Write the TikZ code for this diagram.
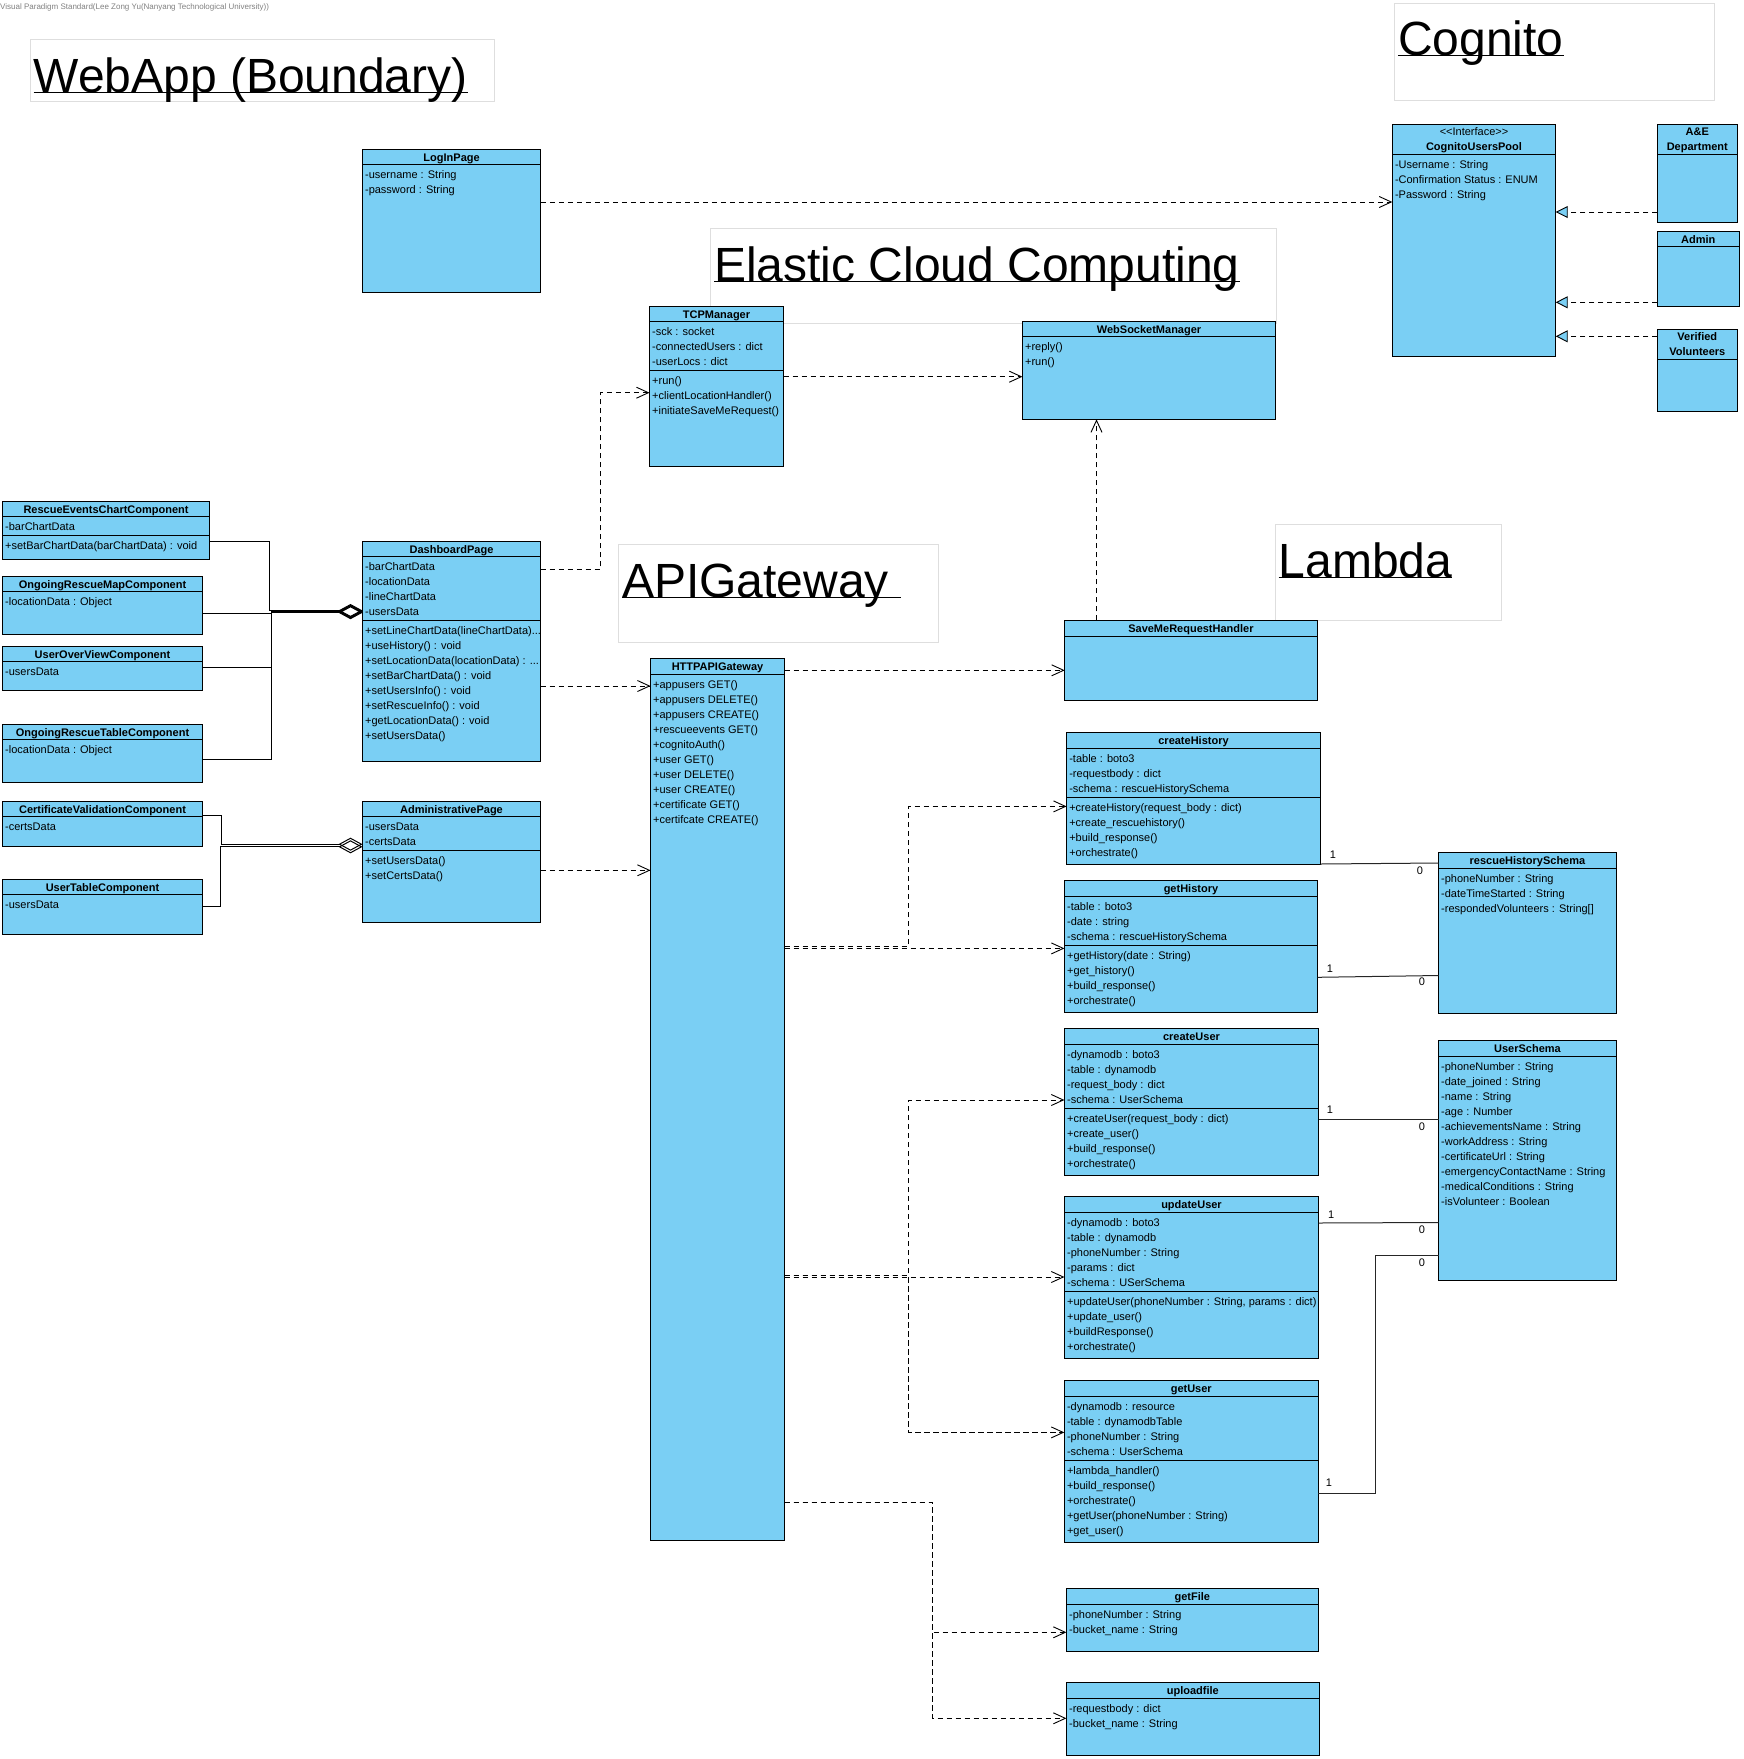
\documentclass[tikz,border=0pt]{standalone}
\usepackage{fontspec}
\setmainfont{Liberation Sans}
\usetikzlibrary{arrows.meta}
\definecolor{clsblue}{RGB}{122,207,244}
\definecolor{areagray}{RGB}{222,222,222}
\newcommand{\compline}[2]{\draw[line width=1] ([yshift=-#2pt]#1.north west) -- ([yshift=-#2pt]#1.north east);}
\newcommand{\members}[4]{\node[mem] (#1-#2) at ([shift={(2.5pt,-#3pt-6pt)}]#1.north west) {#4};}
\tikzset{
  cls/.style = {rectangle,draw=black,fill=clsblue,line width=1,anchor=north west,inner sep=0pt,outer sep=0pt},
  hdr/.style = {anchor=north,inner sep=0pt,font=\bfseries\fontsize{11}{15}\selectfont,text height=8pt,text depth=2.5pt},
  hdrtwo/.style = {anchor=north,inner sep=0pt,align=center,font=\bfseries\fontsize{11}{15}\selectfont},
  mem/.style = {anchor=north west,inner sep=0pt,align=left,font=\fontsize{11}{15}\selectfont},
  %
  area/.style = {rectangle,draw=areagray,line width=1,anchor=north west,inner sep=0pt},
  areatitle/.style = {anchor=base west,inner sep=0pt,font=\fontsize{48}{56}\selectfont},
  uline/.style = {line width=1.3},
  %
  dep/.style = {-{Straight Barb[length=12pt,width=11pt]},line width=0.9,dash pattern=on 5.5pt off 3.5pt},
  realize/.style = {-{Triangle[length=12pt,width=12pt,fill=clsblue]},line width=0.9,dash pattern=on 5.5pt off 3.5pt},
  agg/.style = {-{Diamond[open,length=24pt,width=13pt]},line width=1},
  assoc/.style = {line width=1,draw=black!85},
  mult/.style = {inner sep=0pt,font=\fontsize{11}{15}\selectfont},
}

\begin{document}
\begin{tikzpicture}[x=1pt,y=-1pt]
    \useasboundingbox (0,0) rectangle (1743,1759);
    \node[anchor=west,inner sep=0pt,font=\fontsize{8}{9}\selectfont,text=gray] (vp) at (0,7.3) {Visual Paradigm Standard(Lee Zong Yu(Nanyang Technological University))};

    % package titles
    \node[area,minimum width=464.2,minimum height=62] (webapparea) at (29.5,39.3) {};
    \node[areatitle] (webapptitle) at (33.5,92.3) {WebApp (Boundary)};
    \draw[uline] (webapptitle.base west) -- (webapptitle.base east);

    \node[area,minimum width=320,minimum height=97.3] (cognitoarea) at (1394.3,2.7) {};
    \node[areatitle] (cognitotitle) at (1398,55.7) {Cognito};
    \draw[uline] (cognitotitle.base west) -- (cognitotitle.base east);

    \node[area,minimum width=565.5,minimum height=95] (elasticarea) at (710.2,228.3) {};
    \node[areatitle] (elastictitle) at (714,281.3) {Elastic Cloud Computing};
    \draw[uline] (elastictitle.base west) -- (elastictitle.base east);

    \node[area,minimum width=320.4,minimum height=98] (apiarea) at (618,544.3) {};
    \node[areatitle] (apititle) at (621.8,597.3) {APIGateway};
    \draw[uline] (apititle.base west) -- ([xshift=12pt]apititle.base east);

    \node[area,minimum width=226.2,minimum height=95.4] (lambdaarea) at (1274.8,524.3) {};
    \node[areatitle] (lambdatitle) at (1278.6,577.3) {Lambda};
    \draw[uline] (lambdatitle.base west) -- (lambdatitle.base east);

    % web app
    \node[cls,minimum width=178.4,minimum height=143] (login) at (362.4,149.3) {};
    \node[hdr] (login-h) at ([yshift=-3.5pt]login.north) {LogInPage};
    \compline{login}{15}
    \members{login}{a}{15}{-username : String\\-password : String}

    \node[cls,minimum width=178,minimum height=219.7] (dash) at (362.5,541.3) {};
    \node[hdr] (dash-h) at ([yshift=-3.5pt]dash.north) {DashboardPage};
    \compline{dash}{15.4}
    \compline{dash}{79.4}
    \members{dash}{a}{15.4}{-barChartData\\-locationData\\-lineChartData\\-usersData}
    \members{dash}{o}{79.4}{+setLineChartData(lineChartData)...\\+useHistory() : void\\+setLocationData(locationData) : ...\\+setBarChartData() : void\\+setUsersInfo() : void\\+setRescueInfo() : void\\+getLocationData() : void\\+setUsersData()}

    \node[cls,minimum width=178,minimum height=121] (adminpage) at (362.5,801.3) {};
    \node[hdr] (adminpage-h) at ([yshift=-3.5pt]adminpage.north) {AdministrativePage};
    \compline{adminpage}{15.4}
    \compline{adminpage}{49.4}
    \members{adminpage}{a}{15.4}{-usersData\\-certsData}
    \members{adminpage}{o}{49.4}{+setUsersData()\\+setCertsData()}

    \node[cls,minimum width=207.1,minimum height=58] (rescuechart) at (2.5,501.3) {};
    \node[hdr] (rescuechart-h) at ([yshift=-3.5pt]rescuechart.north) {RescueEventsChartComponent};
    \compline{rescuechart}{15.4}
    \compline{rescuechart}{34}
    \members{rescuechart}{a}{15.4}{-barChartData}
    \members{rescuechart}{o}{34}{+setBarChartData(barChartData) : void}

    \node[cls,minimum width=200,minimum height=58] (rescuemap) at (2.5,576.3) {};
    \node[hdr] (rescuemap-h) at ([yshift=-3.5pt]rescuemap.north) {OngoingRescueMapComponent};
    \compline{rescuemap}{15.4}
    \members{rescuemap}{a}{15.4}{-locationData : Object}

    \node[cls,minimum width=200,minimum height=44] (overview) at (2.5,646.3) {};
    \node[hdr] (overview-h) at ([yshift=-3.5pt]overview.north) {UserOverViewComponent};
    \compline{overview}{15.4}
    \members{overview}{a}{15.4}{-usersData}

    \node[cls,minimum width=200,minimum height=58] (rescuetable) at (2.5,724.3) {};
    \node[hdr] (rescuetable-h) at ([yshift=-3.5pt]rescuetable.north) {OngoingRescueTableComponent};
    \compline{rescuetable}{15.4}
    \members{rescuetable}{a}{15.4}{-locationData : Object}

    \node[cls,minimum width=200,minimum height=45] (certcomp) at (2.5,801.3) {};
    \node[hdr] (certcomp-h) at ([yshift=-3.5pt]certcomp.north) {CertificateValidationComponent};
    \compline{certcomp}{15.4}
    \members{certcomp}{a}{15.4}{-certsData}

    \node[cls,minimum width=200,minimum height=54.7] (usertable) at (2.5,879.3) {};
    \node[hdr] (usertable-h) at ([yshift=-3.5pt]usertable.north) {UserTableComponent};
    \compline{usertable}{15.4}
    \members{usertable}{a}{15.4}{-usersData}

    % cognito
    \node[cls,minimum width=163.4,minimum height=231.7] (cognito) at (1392.3,124.3) {};
    \node[hdrtwo] (cognito-h) at ([yshift=-3.5pt]cognito.north) {{\mdseries <\kern0pt<Interface>\kern0pt>}\\CognitoUsersPool};
    \compline{cognito}{30}
    \members{cognito}{a}{30}{-Username : String\\-Confirmation Status : ENUM\\-Password : String}

    \node[cls,minimum width=80,minimum height=98] (ae) at (1657.3,124.3) {};
    \node[hdrtwo] (ae-h) at ([yshift=-3.5pt]ae.north) {A\&E\\Department};
    \compline{ae}{30}

    \node[cls,minimum width=82,minimum height=75] (admin) at (1657.3,231.7) {};
    \node[hdr] (admin-h) at ([yshift=-3.5pt]admin.north) {Admin};
    \compline{admin}{15}

    \node[cls,minimum width=80,minimum height=81.7] (volunteer) at (1657.3,329.3) {};
    \node[hdrtwo] (volunteer-h) at ([yshift=-3.5pt]volunteer.north) {Verified\\Volunteers};
    \compline{volunteer}{30}

    % elastic cloud computing
    \node[cls,minimum width=134,minimum height=159.6] (tcp) at (649.5,306.7) {};
    \node[hdr] (tcp-h) at ([yshift=-3.5pt]tcp.north) {TCPManager};
    \compline{tcp}{15}
    \compline{tcp}{64}
    \members{tcp}{a}{15}{-sck : socket\\-connectedUsers : dict\\-userLocs : dict}
    \members{tcp}{o}{64}{+run()\\+clientLocationHandler()\\+initiateSaveMeRequest()}

    \node[cls,minimum width=253.3,minimum height=97.6] (wsm) at (1022.4,321.7) {};
    \node[hdr] (wsm-h) at ([yshift=-3.5pt]wsm.north) {WebSocketManager};
    \compline{wsm}{15}
    \members{wsm}{o}{15}{+reply()\\+run()}

    % api gateway
    \node[cls,minimum width=134,minimum height=882] (gateway) at (650.5,658.3) {};
    \node[hdr] (gateway-h) at ([yshift=-3.5pt]gateway.north) {HTTPAPIGateway};
    \compline{gateway}{16}
    \members{gateway}{o}{16}{+appusers GET()\\+appusers DELETE()\\+appusers CREATE()\\+rescueevents GET()\\+cognitoAuth()\\+user GET()\\+user DELETE()\\+user CREATE()\\+certificate GET()\\+certifcate CREATE()}

    % lambda
    \node[cls,minimum width=252.5,minimum height=80] (saveme) at (1064.7,620.3) {};
    \node[hdr] (saveme-h) at ([yshift=-3.5pt]saveme.north) {SaveMeRequestHandler};
    \compline{saveme}{16}

    \node[cls,minimum width=253.8,minimum height=132] (createhist) at (1066.6,732.3) {};
    \node[hdr] (createhist-h) at ([yshift=-3.5pt]createhist.north) {createHistory};
    \compline{createhist}{16}
    \compline{createhist}{65}
    \members{createhist}{a}{16}{-table : boto3\\-requestbody : dict\\-schema : rescueHistorySchema}
    \members{createhist}{o}{65}{+createHistory(request\_body : dict)\\+create\_rescuehistory()\\+build\_response()\\+orchestrate()}

    \node[cls,minimum width=253.1,minimum height=132] (gethist) at (1064.4,880.3) {};
    \node[hdr] (gethist-h) at ([yshift=-3.5pt]gethist.north) {getHistory};
    \compline{gethist}{16.4}
    \compline{gethist}{65}
    \members{gethist}{a}{16.4}{-table : boto3\\-date : string\\-schema : rescueHistorySchema}
    \members{gethist}{o}{65}{+getHistory(date : String)\\+get\_history()\\+build\_response()\\+orchestrate()}

    \node[cls,minimum width=177.9,minimum height=161] (histschema) at (1438.5,852.3) {};
    \node[hdr] (histschema-h) at ([yshift=-3.5pt]histschema.north) {rescueHistorySchema};
    \compline{histschema}{16.4}
    \members{histschema}{a}{16.4}{-phoneNumber : String\\-dateTimeStarted : String\\-respondedVolunteers : String[]}

    \node[cls,minimum width=254.2,minimum height=146.6] (createuser) at (1064.4,1028.7) {};
    \node[hdr] (createuser-h) at ([yshift=-3.5pt]createuser.north) {createUser};
    \compline{createuser}{15.6}
    \compline{createuser}{79.6}
    \members{createuser}{a}{15.6}{-dynamodb : boto3\\-table : dynamodb\\-request\_body : dict\\-schema : UserSchema}
    \members{createuser}{o}{79.6}{+createUser(request\_body : dict)\\+create\_user()\\+build\_response()\\+orchestrate()}

    \node[cls,minimum width=254.2,minimum height=161.6] (updateuser) at (1064.4,1196.7) {};
    \node[hdr] (updateuser-h) at ([yshift=-3.5pt]updateuser.north) {updateUser};
    \compline{updateuser}{15.6}
    \compline{updateuser}{94.6}
    \members{updateuser}{a}{15.6}{-dynamodb : boto3\\-table : dynamodb\\-phoneNumber : String\\-params : dict\\-schema : USerSchema}
    \members{updateuser}{o}{94.6}{+updateUser(phoneNumber : String, params : dict)\\+update\_user()\\+buildResponse()\\+orchestrate()}

    \node[cls,minimum width=177.9,minimum height=239.7] (userschema) at (1438.5,1040.3) {};
    \node[hdr] (userschema-h) at ([yshift=-3.5pt]userschema.north) {UserSchema};
    \compline{userschema}{16.4}
    \members{userschema}{a}{16.4}{-phoneNumber : String\\-date\_joined : String\\-name : String\\-age : Number\\-achievementsName : String\\-workAddress : String\\-certificateUrl : String\\-emergencyContactName : String\\-medicalConditions : String\\-isVolunteer : Boolean}

    \node[cls,minimum width=253.9,minimum height=162] (getuser) at (1064.3,1380.3) {};
    \node[hdr] (getuser-h) at ([yshift=-3.5pt]getuser.north) {getUser};
    \compline{getuser}{16}
    \compline{getuser}{80}
    \members{getuser}{a}{16}{-dynamodb : resource\\-table : dynamodbTable\\-phoneNumber : String\\-schema : UserSchema}
    \members{getuser}{o}{80}{+lambda\_handler()\\+build\_response()\\+orchestrate()\\+getUser(phoneNumber : String)\\+get\_user()}

    \node[cls,minimum width=251.8,minimum height=63] (getfile) at (1066.4,1588.3) {};
    \node[hdr] (getfile-h) at ([yshift=-3.5pt]getfile.north) {getFile};
    \compline{getfile}{16}
    \members{getfile}{a}{16}{-phoneNumber : String\\-bucket\_name : String}

    \node[cls,minimum width=252.9,minimum height=73] (uploadfile) at (1066.4,1682.3) {};
    \node[hdr] (uploadfile-h) at ([yshift=-3.5pt]uploadfile.north) {uploadfile};
    \compline{uploadfile}{16}
    \members{uploadfile}{a}{16}{-requestbody : dict\\-bucket\_name : String}

    % aggregations
    \draw[agg] (rescuechart.east |- 0,541.5) -- ++(59.4,0) |- (dash.west |- 0,610.5);
    \draw[agg] (rescuemap.east |- 0,613) -- ++(69,0) |- (dash.west |- 0,611.3);
    \draw[agg] (overview.east |- 0,667) -- ++(69,0) |- (dash.west |- 0,612);
    \draw[agg] (rescuetable.east |- 0,759.5) -- ++(69,0) |- (dash.west |- 0,612.7);
    \draw[agg] (certcomp.east |- 0,815) -- ++(19,0) |- (adminpage.west |- 0,844.2);
    \draw[agg] (usertable.east |- 0,906.5) -- ++(17.5,0) |- (adminpage.west |- 0,846.8);

    % dependencies
    \draw[dep] (login.east |- 0,202) -- (cognito.west |- 0,202);
    \draw[dep] (tcp.east |- 0,376.7) -- (wsm.west |- 0,376.7);
    \draw[dep] (dash.east |- 0,569.3) -- ++(60,0) |- (tcp.west |- 0,392.7);
    \draw[dep] (dash.east |- 0,686) -- (gateway.west |- 0,686);
    \draw[dep] (adminpage.east |- 0,870.3) -- (gateway.west |- 0,870.3);
    \draw[dep] (gateway.east |- 0,670.3) -- (saveme.west |- 0,670.3);
    \draw[dep] (saveme.north -| 1096.5,0) -- (wsm.south -| 1096.5,0);
    \draw[dep] (gateway.east |- 0,946.2) -- ++(124,0) |- (createhist.west |- 0,806.4);
    \draw[dep] (gateway.east |- 0,948.4) -- (gethist.west |- 0,948.4);
    \draw[dep] (gateway.east |- 0,1275) -- ++(124,0) |- (createuser.west |- 0,1100);
    \draw[dep] (gateway.east |- 0,1277) -- (updateuser.west |- 0,1277);
    \draw[dep] (gateway.east |- 0,1275) -- ++(124,0) |- (getuser.west |- 0,1432.4);
    \draw[dep] (gateway.east |- 0,1502.3) -- ++(148,0) |- (getfile.west |- 0,1632.3);
    \draw[dep] (gateway.east |- 0,1502.3) -- ++(148,0) |- (uploadfile.west |- 0,1718.3);

    % realizations
    \draw[realize] (ae.west |- 0,212) -- (cognito.east |- 0,212);
    \draw[realize] (admin.west |- 0,302.3) -- (cognito.east |- 0,302.3);
    \draw[realize] (volunteer.west |- 0,336.3) -- (cognito.east |- 0,336.3);

    % associations
    \draw[assoc] (createhist.east |- 0,864) -- (histschema.west |- 0,863);
    \draw[assoc] (gethist.east |- 0,977.3) -- (histschema.west |- 0,975.5);
    \draw[assoc] (createuser.east |- 0,1119.3) -- (userschema.west |- 0,1119.3);
    \draw[assoc] (updateuser.east |- 0,1223) -- (userschema.west |- 0,1222.5);
    \draw[assoc] (getuser.east |- 0,1493.3) -- ++(57.3,0) |- (userschema.west |- 0,1255.3);

    \node[mult] (m1) at (1333,855) {1};
    \node[mult] (m2) at (1420,870.3) {0};
    \node[mult] (m3) at (1330,968.3) {1};
    \node[mult] (m4) at (1421.8,982) {0};
    \node[mult] (m5) at (1330,1109.3) {1};
    \node[mult] (m6) at (1421.8,1126.3) {0};
    \node[mult] (m7) at (1331.2,1214.3) {1};
    \node[mult] (m8) at (1421.8,1229.3) {0};
    \node[mult] (m9) at (1329,1483) {1};
    \node[mult] (m10) at (1421.8,1262.3) {0};

\end{tikzpicture}
\end{document}
